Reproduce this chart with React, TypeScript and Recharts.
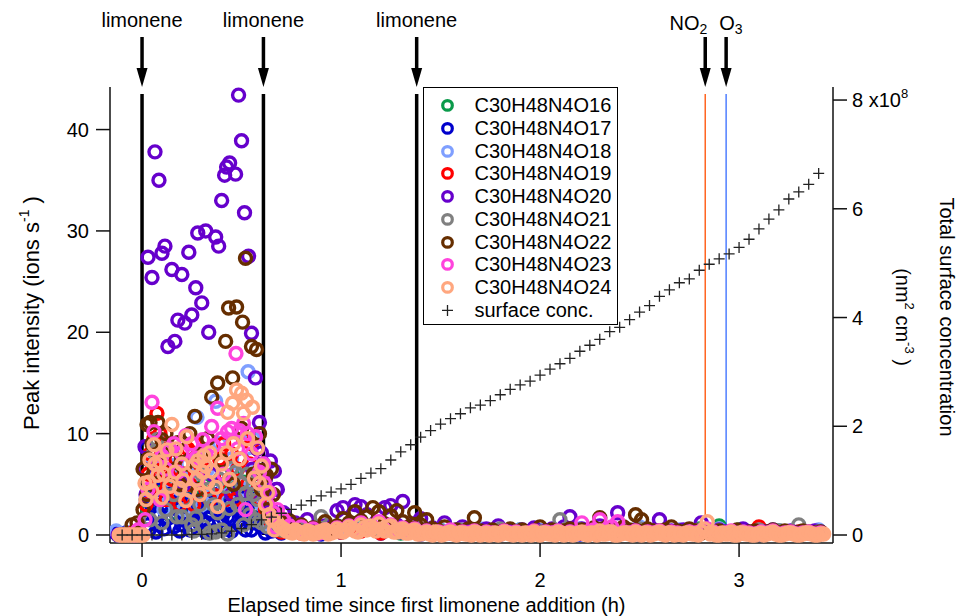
import React from "react";
import { ScatterChart, Scatter, XAxis, YAxis, ReferenceLine } from "recharts";

const FONT = "'Liberation Sans', Arial, Helvetica, sans-serif";

const SERIES = [
  "C30H48N4O16",
  "C30H48N4O17",
  "C30H48N4O18",
  "C30H48N4O19",
  "C30H48N4O20",
  "C30H48N4O21",
  "C30H48N4O22",
  "C30H48N4O23",
  "C30H48N4O24",
];
const COLORS = ["#0a9a4a", "#0000cc", "#7f9fff", "#ff0000", "#6600cc", "#808080", "#662e00", "#ff44dd", "#ffa77f"];

// first hour: [elapsed h, ions s-1]
const O16_EARLY: [number, number][] = [
  [-0.12, 0], [-0.06, 0.1], [0.03, 2.5], [0.06, 4.5], [0.1, 5.5], [0.14, 2.0], [0.19, 3.2], [0.23, 6.0],
  [0.27, 3.8], [0.31, 5.0], [0.35, 2.2], [0.38, 4.5], [0.42, 3.0], [0.46, 6.0], [0.5, 4.2], [0.53, 2.0],
  [0.58, 4.5], [0.62, 1.5], [0.65, 0.6], [0.08, 3.8], [0.12, 4.8], [0.16, 2.8], [0.21, 4.2], [0.25, 2.3],
  [0.29, 4.6], [0.33, 3.6], [0.4, 2.6], [0.44, 4.4], [0.48, 3.0], [0.51, 5.2], [0.56, 3.3], [0.6, 2.0],
];
const O17_EARLY: [number, number][] = [
  [-0.13, 0.2], [-0.08, 0.2], [-0.03, 0.3], [0.02, 8.6], [0.03, 1.0], [0.04, 3.5], [0.06, 2.0], [0.08, 1.0],
  [0.09, 4.5], [0.1, 3.0], [0.12, 1.5], [0.14, 4.0], [0.16, 0.8], [0.18, 2.5], [0.2, 1.0], [0.22, 3.5],
  [0.24, 0.5], [0.26, 2.0], [0.28, 3.0], [0.3, 1.5], [0.32, 0.3], [0.34, 2.8], [0.36, 1.0], [0.38, 4.0],
  [0.4, 2.2], [0.42, 0.6], [0.44, 3.0], [0.46, 1.5], [0.48, 4.5], [0.5, 2.0], [0.52, 0.5], [0.54, 3.2],
  [0.56, 1.2], [0.58, 2.5], [0.6, 0.8], [0.62, 0.2], [0.65, 0.4], [0.035, 0.5], [0.05, 2.8], [0.07, 0.3],
  [0.085, 2.0], [0.11, 0.6], [0.13, 2.8], [0.15, 1.8], [0.17, 3.2], [0.19, 0.4], [0.21, 2.2], [0.23, 1.6],
  [0.25, 3.4], [0.27, 0.9], [0.29, 2.3], [0.31, 3.6], [0.33, 1.2], [0.35, 0.4], [0.37, 2.5], [0.39, 1.4],
  [0.41, 3.4], [0.43, 1.8], [0.45, 0.4], [0.47, 2.6], [0.49, 1.0], [0.51, 3.0], [0.53, 1.8], [0.55, 0.5],
  [0.57, 3.5], [0.59, 1.6], [0.61, 2.8],
];
const O18_EARLY: [number, number][] = [
  [-0.13, 0.4], [-0.07, 0.2], [0.03, 4.0], [0.07, 6.5], [0.11, 2.5], [0.15, 8.0], [0.19, 4.5], [0.23, 7.0],
  [0.276, 11.6], [0.3, 3.0], [0.33, 6.5], [0.37, 13.2], [0.41, 5.0], [0.45, 7.5], [0.49, 10.0], [0.533, 16.1],
  [0.56, 9.5], [0.6, 3.0], [0.64, 1.0], [0.05, 7.0], [0.09, 4.0], [0.13, 5.5], [0.17, 6.8], [0.21, 2.5],
  [0.25, 5.8], [0.28, 8.0], [0.35, 4.0], [0.39, 9.0], [0.43, 3.5], [0.47, 6.0], [0.51, 4.5], [0.55, 7.5],
  [0.58, 5.5], [0.62, 2.5],
];
const O19_EARLY: [number, number][] = [
  [-0.05, 0.2], [0.02, 3.0], [0.03, 6.0], [0.045, 4.5], [0.07, 5.0], [0.075, 12.0], [0.1, 6.5], [0.12, 3.5],
  [0.15, 5.5], [0.18, 4.0], [0.21, 6.0], [0.24, 5.0], [0.26, 3.0], [0.29, 7.0], [0.32, 4.5], [0.36, 6.0],
  [0.39, 7.5], [0.42, 3.5], [0.45, 8.0], [0.48, 6.5], [0.51, 9.5], [0.54, 7.0], [0.56, 4.0], [0.58, 8.5],
  [0.6, 6.0], [0.62, 2.5], [0.64, 1.5], [0.04, 8.0], [0.06, 9.5], [0.09, 10.0], [0.11, 8.5], [0.13, 6.0],
  [0.17, 7.5], [0.19, 3.0], [0.23, 8.5], [0.27, 9.0], [0.31, 6.5], [0.34, 3.5], [0.38, 5.0], [0.41, 9.0],
  [0.44, 5.5], [0.47, 3.5], [0.5, 7.5], [0.53, 5.0], [0.55, 9.0], [0.59, 3.5], [0.61, 4.5],
];
const O20_EARLY: [number, number][] = [
  [-0.12, 0], [-0.08, 0.1], [-0.04, 0], [0.015, 8.7], [0.02, 4.0], [0.03, 27.4], [0.05, 25.4], [0.065, 37.8],
  [0.085, 35.0], [0.1, 27.8], [0.115, 28.5], [0.13, 18.6], [0.15, 26.2], [0.165, 19.1], [0.18, 21.2],
  [0.2, 25.7], [0.21, 5.0], [0.215, 20.9], [0.235, 27.9], [0.25, 21.7], [0.27, 24.4], [0.28, 29.8],
  [0.3, 22.9], [0.32, 30.0], [0.335, 20.0], [0.35, 6.0], [0.37, 29.4], [0.385, 28.5], [0.4, 33.0],
  [0.415, 35.5], [0.425, 36.3], [0.44, 36.7], [0.45, 4.0], [0.47, 35.6], [0.485, 43.4], [0.5, 38.9],
  [0.515, 31.8], [0.535, 27.5], [0.55, 19.9], [0.555, 6.5], [0.57, 15.5], [0.59, 11.1], [0.6, 8.1],
  [0.61, 7.0], [0.62, 5.5], [0.645, 7.3], [0.665, 6.3], [0.675, 4.5], [0.01, 6.5], [0.55, 4.0],
  [0.58, 8.5], [0.63, 3.5], [0.65, 2.5],
];
const O21_EARLY: [number, number][] = [
  [-0.08, 0.1], [0.02, 3.5], [0.06, 8.2], [0.075, 9.4], [0.12, 2.5], [0.16, 4.0], [0.175, 1.8], [0.2, 1.8],
  [0.215, 3.5], [0.25, 1.0], [0.27, 1.7], [0.3, 6.0], [0.34, 0.2], [0.36, 3.0], [0.39, 5.5], [0.4, 0.5],
  [0.43, 0.1], [0.45, 6.6], [0.47, 6.2], [0.5, 5.1], [0.52, 4.1], [0.54, 2.0], [0.58, 3.5], [0.6, 1.2],
  [0.63, 0.8], [0.26, 0.4], [0.29, 3.0], [0.31, 0.8], [0.33, 4.5], [0.37, 0.3], [0.38, 2.2], [0.42, 4.8],
  [0.44, 2.6], [0.48, 3.0], [0.51, 1.0], [0.53, 6.0], [0.56, 4.0], [0.57, 1.5], [0.59, 5.5], [0.62, 3.0],
  [0.65, 1.5], [0.1, 1.2], [0.14, 5.0], [0.04, 1.5],
];
const O22_EARLY: [number, number][] = [
  [-0.1, 0], [-0.05, 1.0], [-0.025, 1.2], [0.005, 2.5], [0.025, 4.0], [0.025, 10.9], [0.04, 11.1], [0.05, 9.0],
  [0.08, 11.1], [0.1, 9.4], [0.11, 8.0], [0.14, 7.5], [0.16, 6.0], [0.18, 9.1], [0.19, 5.0], [0.22, 7.0],
  [0.265, 11.7], [0.3, 8.0], [0.35, 13.6], [0.38, 15.0], [0.42, 19.1], [0.435, 22.4], [0.455, 15.5],
  [0.475, 22.5], [0.505, 21.0], [0.52, 27.3], [0.55, 18.6], [0.575, 18.3], [0.59, 10.0], [0.605, 6.4],
  [0.625, 5.9], [0.65, 6.5], [0.66, 4.0], [0.005, 6.5], [0.03, 7.5], [0.06, 6.2], [0.12, 10.0], [0.2, 8.3],
  [0.24, 10.0], [0.28, 4.5], [0.33, 9.5], [0.4, 7.3], [0.46, 5.0], [0.5, 10.5], [0.56, 6.0], [0.6, 4.5],
  [0.63, 2.5],
];
const O23_EARLY: [number, number][] = [
  [-0.02, 0.5], [0.015, 1.5], [0.05, 13.1], [0.07, 7.0], [0.09, 3.5], [0.12, 6.5], [0.16, 9.0], [0.2, 8.0],
  [0.25, 9.0], [0.28, 5.5], [0.305, 9.4], [0.35, 10.7], [0.38, 12.5], [0.41, 6.0], [0.43, 10.2], [0.472, 17.9],
  [0.49, 10.3], [0.52, 2.5], [0.53, 10.0], [0.57, 9.7], [0.61, 7.0], [0.615, 5.1], [0.64, 4.2], [0.66, 2.2],
  [0.67, 0.8], [0.03, 4.5], [0.06, 10.2], [0.1, 7.8], [0.14, 8.5], [0.18, 6.2], [0.22, 9.8], [0.27, 7.6],
  [0.32, 8.0], [0.36, 8.8], [0.4, 9.5], [0.45, 10.5], [0.48, 8.5], [0.51, 11.0], [0.55, 8.0], [0.59, 6.2],
  [0.63, 3.0],
];
const O24_EARLY: [number, number][] = [
  [-0.115, 0], [-0.1, 0], [-0.085, 0], [-0.07, 0], [-0.055, 0], [-0.04, 0], [-0.025, 0], [-0.01, 0], [0.005, 0],
  [0.015, 5.1], [0.035, 5.2], [0.04, 7.4], [0.065, 7.0], [0.09, 7.2], [0.1, 3.7], [0.125, 8.4], [0.15, 10.9],
  [0.165, 6.2], [0.19, 4.6], [0.205, 5.4], [0.225, 9.7], [0.24, 4.4], [0.275, 5.5], [0.28, 7.3], [0.305, 6.2],
  [0.32, 6.8], [0.34, 8.1], [0.38, 2.8], [0.425, 8.1], [0.43, 12.1], [0.455, 13.0], [0.475, 14.3], [0.5, 14.0],
  [0.51, 12.0], [0.525, 13.3], [0.555, 12.6], [0.565, 5.6], [0.58, 8.6], [0.59, 5.1], [0.62, 3.0], [0.64, 2.0],
  [0.655, 1.5], [0.665, 0.5], [0.02, 3.5], [0.05, 4.3], [0.06, 8.9], [0.08, 5.9], [0.11, 6.0], [0.14, 4.8],
  [0.17, 8.5], [0.2, 7.0], [0.22, 3.4], [0.26, 6.8], [0.29, 4.0], [0.31, 7.8], [0.33, 5.2], [0.35, 6.3],
  [0.37, 4.7], [0.4, 7.0], [0.44, 5.5], [0.46, 9.0], [0.49, 7.5], [0.53, 9.5], [0.6, 6.8], [0.63, 4.2],
];

// later part of the run
const LATE_T = [
  0.68, 0.71, 0.74, 0.77, 0.8, 0.83, 0.86, 0.89, 0.92, 0.95,
  0.98, 1.01, 1.04, 1.07, 1.1, 1.13, 1.16, 1.19, 1.22, 1.25,
  1.28, 1.31, 1.34, 1.37, 1.4, 1.43, 1.46, 1.49, 1.52, 1.55,
  1.58, 1.61, 1.64, 1.67, 1.7, 1.73, 1.76, 1.79, 1.82, 1.85,
  1.88, 1.91, 1.94, 1.97, 2.0, 2.03, 2.06, 2.09, 2.12, 2.15,
  2.18, 2.21, 2.24, 2.27, 2.3, 2.33, 2.36, 2.39, 2.42, 2.45,
  2.48, 2.51, 2.54, 2.57, 2.6, 2.63, 2.66, 2.69, 2.72, 2.75,
  2.78, 2.81, 2.84, 2.87, 2.9, 2.93, 2.96, 2.99, 3.02, 3.05,
  3.08, 3.11, 3.14, 3.17, 3.2, 3.23, 3.26, 3.29, 3.32, 3.35,
  3.38, 3.41,
];
const LATE_T_MID = [
  0.695, 0.725, 0.755, 0.785, 0.815, 0.845, 0.875, 0.905, 0.935, 0.965,
  0.995, 1.025, 1.055, 1.085, 1.115, 1.145, 1.175, 1.205, 1.235, 1.265,
  1.295, 1.325, 1.355, 1.385, 1.415, 1.445, 1.475, 1.505, 1.535, 1.565,
  1.595, 1.625, 1.655, 1.685, 1.715, 1.745, 1.775, 1.805, 1.835, 1.865,
  1.895, 1.925, 1.955, 1.985, 2.015, 2.045, 2.075, 2.105, 2.135, 2.165,
  2.195, 2.225, 2.255, 2.285, 2.315, 2.345, 2.375, 2.405, 2.435, 2.465,
  2.495, 2.525, 2.555, 2.585, 2.615, 2.645, 2.675, 2.705, 2.735, 2.765,
  2.795, 2.825, 2.855, 2.885, 2.915, 2.945, 2.975, 3.005, 3.035, 3.065,
  3.095, 3.125, 3.155, 3.185, 3.215, 3.245, 3.275, 3.305, 3.335, 3.365,
  3.395, 3.425,
];
const O20_LATE = [
  4.5, 2.2, 0.8, 1.2, 0.5, 1.5, 0.4, 0.6, 0.9, 0.5,
  2.4, 2.7, 1.0, 3.0, 2.8, 2.0, 0.8, 1.2, 2.7, 2.9,
  1.0, 3.3, 0.6, 1.1, 1.6, 0.4, 0.7, 0.3, 1.2, 0.2,
  0.5, 0.8, 0.2, 0.4, 0.3, 0.6, 0.2, 0.9, 0.3, 0.4,
  0.2, 0.5, 0.3, 0.7, 0.2, 0.4, 0.6, 0.3, 0.8, 1.8,
  0.4, 0.6, 0.3, 0.5, 0.9, 0.3, 0.6, 2.2, 0.4, 0.3,
  0.5, 0.2, 0.4, 0.3, 1.5, 0.2, 0.4, 0.3, 0.5, 0.2,
  0.3, 1.2, 0.4, 0.2, 0.5, 0.3, 0.2, 0.4, 0.6, 0.3,
  0.2, 0.4, 0.3, 0.5, 0.2, 0.3, 0.4, 0.2, 0.3, 0.2,
  0.4, 0.3,
];
const O22_LATE = [
  2.0, 1.0, 1.4, 0.6, 1.0, 0.4, 0.7, 0.5, 1.3, 0.6,
  0.9, 1.6, 1.2, 2.3, 1.4, 1.8, 2.7, 2.3, 1.1, 1.9,
  2.4, 1.3, 0.8, 2.2, 1.0, 1.5, 0.6, 0.4, 0.8, 0.3,
  0.5, 0.3, 0.6, 1.7, 0.4, 0.3, 0.5, 0.2, 0.4, 0.6,
  0.3, 0.5, 0.2, 0.4, 0.8, 0.3, 0.5, 0.2, 0.4, 0.6,
  0.3, 0.5, 0.4, 0.7, 1.7, 0.4, 0.6, 0.3, 0.8, 0.5,
  2.0, 1.5, 0.6, 0.4, 0.3, 0.5, 0.8, 0.4, 0.3, 0.6,
  0.4, 0.2, 0.5, 0.3, 0.4, 0.2, 0.3, 0.5, 0.2, 0.3,
  0.4, 0.2, 0.3, 0.5, 0.2, 0.4, 0.3, 0.2, 0.4, 0.3,
  0.2, 0.3,
];
const O23_LATE = [
  2.5, 1.5, 0.9, 0.4, 0.8, 0.3, 0.6, 0.2, 0.5, 0.3,
  0.7, 0.4, 0.9, 0.5, 1.2, 0.6, 0.8, 1.3, 0.5, 1.0,
  0.4, 0.7, 0.3, 0.6, 0.2, 0.4, 0.1, 0.3, 0.2, 0.5,
  0.1, 0.3, 0.2, 0.4, 0.1, 0.3, 0.2, 0.1, 0.4, 0.2,
  0.3, 0.1, 0.2, 0.4, 0.1, 0.3, 0.2, 0.4, 0.1, 0.3,
  0.2, 1.2, 0.3, 0.5, 1.5, 0.4, 0.8, 1.3, 0.3, 0.2,
  0.4, 0.1, 0.3, 0.2, 0.4, 0.1, 0.3, 0.2, 0.1, 0.3,
  0.2, 0.4, 0.6, 0.3, 0.1, 0.2, 0.4, 0.1, 0.3, 0.2,
  0.1, 0.3, 0.2, 0.4, 0.1, 0.2, 0.3, 0.1, 0.2, 0.3,
  0.1, 0.2,
];
const O24_LATE = [
  1.2, 0.6, 0.3, 0.5, 0.2, 0.4, 0.1, 0.3, 0.5, 0.2,
  0.6, 0.3, 0.8, 0.4, 1.0, 0.5, 0.7, 1.1, 0.4, 0.9,
  0.3, 0.6, 0.2, 0.5, 0.1, 0.3, 0.0, 0.2, 0.1, 0.3,
  0.0, 0.2, 0.1, 0.3, 0.0, 0.2, 0.1, 0.0, 0.3, 0.1,
  0.2, 0.0, 0.1, 0.3, 0.0, 0.2, 0.1, 0.3, 0.0, 0.2,
  0.1, 0.3, 0.0, 0.2, 0.4, 0.1, 0.3, 0.0, 0.2, 0.1,
  0.3, 0.0, 0.2, 0.1, 0.3, 0.0, 0.2, 0.1, 0.0, 0.2,
  0.1, 0.3, 1.3, 0.2, 0.0, 0.1, 0.3, 0.0, 0.2, 0.1,
  0.0, 0.2, 0.1, 0.3, 0.0, 0.1, 0.2, 0.0, 0.1, 0.2,
  0.0, 0.1,
];
const O24_LATE_MID = [
  0.8, 0.4, 0.2, 0.3, 0.1, 0.3, 0.2, 0.4, 0.1, 0.3,
  0.4, 0.5, 0.6, 0.3, 0.7, 0.9, 0.4, 0.6, 0.8, 0.3,
  0.5, 0.2, 0.4, 0.1, 0.2, 0.1, 0.3, 0.0, 0.2, 0.1,
  0.2, 0.1, 0.0, 0.2, 0.1, 0.0, 0.2, 0.1, 0.2, 0.0,
  0.1, 0.2, 0.0, 0.1, 0.2, 0.1, 0.0, 0.2, 0.1, 0.0,
  0.2, 0.1, 0.2, 0.0, 0.1, 0.3, 0.0, 0.1, 0.2, 0.0,
  0.1, 0.2, 0.0, 0.2, 0.1, 0.2, 0.0, 0.1, 0.2, 0.1,
  0.0, 0.6, 0.1, 0.0, 0.2, 0.1, 0.0, 0.2, 0.1, 0.0,
  0.1, 0.0, 0.2, 0.1, 0.0, 0.2, 0.1, 0.0, 0.2, 0.1,
  0.0, 0.1,
];

const LATE_T_COARSE = [
  0.7, 0.8, 0.9, 1.0, 1.1, 1.2, 1.3, 1.4, 1.5, 1.6, 1.7, 1.8, 1.9, 2.0,
  2.1, 2.2, 2.3, 2.4, 2.5, 2.6, 2.7, 2.8, 2.9, 3.0, 3.1, 3.2, 3.3, 3.4,
];
const O16_LATE = [0.3, 0.5, 0.2, 0.4, 0.6, 0.3, 0.2, 0.5, 0.3, 0.2, 0.4, 0.3, 0.5, 0.2, 0.4, 0.3, 0.2, 0.5, 0.3, 0.4, 0.2, 0.6, 0.9, 0.5, 0.3, 0.4, 0.2, 0.3];
const O17_LATE = [0.2, 0.4, 0.1, 0.3, 0.5, 0.2, 0.3, 0.1, 0.4, 0.2, 0.3, 0.1, 0.2, 0.4, 0.3, 0.1, 0.2, 0.3, 0.1, 0.4, 0.2, 0.3, 0.5, 0.2, 0.1, 0.3, 0.2, 0.1];
const O18_LATE = [0.4, 0.6, 0.3, 0.8, 0.5, 0.4, 0.7, 0.3, 0.5, 0.4, 0.6, 0.3, 0.5, 0.4, 0.3, 0.6, 0.4, 0.5, 0.8, 0.3, 0.5, 0.4, 0.6, 0.3, 0.5, 0.4, 0.3, 0.5];
const O19_LATE = [0.3, 0.2, 0.5, 0.3, 0.4, 0.2, 0.6, 0.3, 0.2, 0.4, 0.3, 0.5, 0.2, 0.3, 0.4, 0.2, 0.3, 0.5, 0.2, 0.4, 0.3, 0.2, 0.4, 0.3, 0.8, 0.2, 0.3, 0.2];
const O21_LATE = [0.5, 0.6, 1.8, 0.4, 1.0, 0.5, 0.3, 0.6, 0.4, 0.5, 0.3, 0.6, 0.4, 0.3, 1.5, 0.5, 0.4, 0.3, 0.6, 0.4, 0.3, 0.5, 0.4, 0.3, 0.5, 0.4, 1.0, 0.3];

// total surface concentration, 1e8 nm2 cm-3
const SURF_T = [
  -0.1, -0.05, 0.0, 0.05, 0.1, 0.15, 0.2, 0.25, 0.3, 0.35,
  0.4, 0.45, 0.5, 0.55, 0.6, 0.65, 0.7, 0.75, 0.8, 0.85,
  0.9, 0.95, 1.0, 1.05, 1.1, 1.15, 1.2, 1.25, 1.3, 1.35,
  1.4, 1.45, 1.5, 1.55, 1.6, 1.65, 1.7, 1.75, 1.8, 1.85,
  1.9, 1.95, 2.0, 2.05, 2.1, 2.15, 2.2, 2.25, 2.3, 2.35,
  2.4, 2.45, 2.5, 2.55, 2.6, 2.65, 2.7, 2.75, 2.8, 2.85,
  2.9, 2.95, 3.0, 3.05, 3.1, 3.15, 3.2, 3.25, 3.3, 3.35,
  3.4,
];
const SURF_V = [
  0, 0, 0, 0, 0, 0, 0, 0.01, 0.01, 0.02,
  0.04, 0.07, 0.12, 0.19, 0.28, 0.33, 0.4, 0.47, 0.55, 0.63,
  0.72, 0.79, 0.85, 0.93, 1.04, 1.14, 1.22, 1.38, 1.53, 1.66,
  1.8, 1.92, 2.04, 2.14, 2.23, 2.34, 2.39, 2.47, 2.58, 2.68,
  2.76, 2.83, 2.94, 3.05, 3.15, 3.25, 3.38, 3.49, 3.6, 3.74,
  3.82, 3.96, 4.1, 4.22, 4.39, 4.51, 4.64, 4.71, 4.87, 4.98,
  5.08, 5.17, 5.29, 5.44, 5.63, 5.81, 5.98, 6.18, 6.31, 6.45,
  6.65,
];

const EVENT_T = [0, 0.61, 1.38, 2.83, 2.935];
const EVENT_LABEL = ["limonene", "limonene", "limonene", "NO2", "O3"];
const EVENT_TOP = 43.5;

const X_TICKS = [0, 1, 2, 3];
const LEFT_TICKS = [0, 10, 20, 30, 40];
const RIGHT_TICKS = [0, 2, 4, 6, 8];

const pairs = (p: [number, number][]) => p.map(([t, v]) => ({ t, v }));
const zip = (ts: number[], vs: number[]) => vs.map((v, i) => ({ t: ts[i], v }));

const SERIES_DATA = [
  [...pairs(O16_EARLY), ...zip(LATE_T_COARSE, O16_LATE)],
  [...pairs(O17_EARLY), ...zip(LATE_T_COARSE, O17_LATE)],
  [...pairs(O18_EARLY), ...zip(LATE_T_COARSE, O18_LATE)],
  [...pairs(O19_EARLY), ...zip(LATE_T_COARSE, O19_LATE)],
  [...pairs(O20_EARLY), ...zip(LATE_T, O20_LATE)],
  [...pairs(O21_EARLY), ...zip(LATE_T_COARSE, O21_LATE)],
  [...pairs(O22_EARLY), ...zip(LATE_T, O22_LATE)],
  [...pairs(O23_EARLY), ...zip(LATE_T, O23_LATE)],
  [...pairs(O24_EARLY), ...zip(LATE_T, O24_LATE), ...zip(LATE_T_MID, O24_LATE_MID)],
];
const SURF_DATA = zip(SURF_T, SURF_V);

const PLOT_TOP = 87;
const EVENT_STROKE = ["#000", "#000", "#000", "#ff6420", "#4f7fff"];
const EVENT_WIDTH = [3.5, 3.5, 3.5, 1.5, 1.5];

const makeRing = (color: string) => (props: any) => {
  const { cx, cy } = props;
  if (cx == null || cy == null) return <g />;
  return <circle cx={cx} cy={cy} r={6} fill="none" stroke={color} strokeWidth={3.4} />;
};

const crossShape = (props: any) => {
  const { cx, cy } = props;
  if (cx == null || cy == null) return <g />;
  return <path d={`M${cx - 5.5},${cy}H${cx + 5.5}M${cx},${cy - 5.5}V${cy + 5.5}`} stroke="#222" strokeWidth={1.3} fill="none" />;
};

function EventArrow(props: any) {
  const { viewBox, name } = props;
  const x = viewBox?.x ?? 0;
  let label: React.ReactNode;
  if (name === "NO2") {
    label = (
      <text x={x + 2} y={30} textAnchor="end" fontSize={20} fontFamily={FONT} fill="#000">
        NO<tspan fontSize={14} dy={4}>2</tspan>
      </text>
    );
  } else if (name === "O3") {
    label = (
      <text x={x - 7} y={30} textAnchor="start" fontSize={20} fontFamily={FONT} fill="#000">
        O<tspan fontSize={14} dy={4}>3</tspan>
      </text>
    );
  } else {
    label = (
      <text x={x} y={27} textAnchor="middle" fontSize={20} fontFamily={FONT} fill="#000">
        {name}
      </text>
    );
  }
  return (
    <g>
      {label}
      <line x1={x} x2={x} y1={37} y2={PLOT_TOP - 16} stroke="#000" strokeWidth={3.5} />
      <path d={`M${x - 5.5},${PLOT_TOP - 19}L${x + 5.5},${PLOT_TOP - 19}L${x},${PLOT_TOP}Z`} fill="#000" />
    </g>
  );
}

function LeftTick(props: any) {
  const { x, y, payload } = props;
  return (
    <text x={x} y={y} dy="0.36em" textAnchor="end" fontSize={20} fontFamily={FONT} fill="#000">
      {payload.value}
    </text>
  );
}

function RightTick(props: any) {
  const { x, y, payload } = props;
  const v = payload.value;
  return (
    <text x={x} y={y} dy="0.36em" textAnchor="start" fontSize={20} fontFamily={FONT} fill="#000">
      {v === 8 ? (
        <>
          8 x10<tspan fontSize={13} dy={-9}>8</tspan>
        </>
      ) : (
        v
      )}
    </text>
  );
}

function BottomTick(props: any) {
  const { x, y, payload } = props;
  return (
    <text x={x} y={y} dy="0.71em" textAnchor="middle" fontSize={20} fontFamily={FONT} fill="#000">
      {payload.value}
    </text>
  );
}

function XTitle(props: any) {
  const vb = props.viewBox || { x: 0, y: 0, width: 0, height: 0 };
  return (
    <text x={vb.x + vb.width / 2 - 45} y={vb.y + 69} textAnchor="middle" fontSize={20} fontFamily={FONT} fill="#000">
      Elapsed time since first limonene addition (h)
    </text>
  );
}

function LeftTitle(props: any) {
  const vb = props.viewBox || { x: 0, y: 0, width: 0, height: 0 };
  const cx = vb.x - 19;
  const cy = vb.y + vb.height / 2 - 2;
  return (
    <text x={cx} y={cy} dy="0.36em" transform={`rotate(-90, ${cx}, ${cy})`} textAnchor="middle" fontSize={22} fontFamily={FONT} fill="#000">
      Peak intensity (ions s<tspan fontSize={14} dy={-10}>-1</tspan>
      <tspan dy={10}> )</tspan>
    </text>
  );
}

function RightTitle(props: any) {
  const vb = props.viewBox || { x: 0, y: 0, width: 0, height: 0 };
  const x1 = vb.x + vb.width + 54;
  const x2 = vb.x + vb.width + 10;
  const cy = vb.y + vb.height / 2 + 2;
  return (
    <g>
      <text x={x1} y={cy} dy="0.36em" transform={`rotate(90, ${x1}, ${cy})`} textAnchor="middle" fontSize={20} fontFamily={FONT} fill="#000">
        Total surface concentration
      </text>
      <text x={x2} y={cy} dy="0.36em" transform={`rotate(90, ${x2}, ${cy})`} textAnchor="middle" fontSize={20} fontFamily={FONT} fill="#000">
        (nm<tspan fontSize={13} dy={-9}>2</tspan>
        <tspan dy={9}> cm</tspan>
        <tspan fontSize={13} dy={-9}>-3</tspan>
        <tspan dy={9}> )</tspan>
      </text>
    </g>
  );
}

function LegendBox() {
  const rows = [...SERIES, "surface conc."];
  return (
    <div
      style={{
        position: "absolute",
        left: 423,
        top: 87,
        width: 195,
        height: 238,
        border: "1.5px solid #000",
        boxSizing: "border-box",
        background: "#fff",
        fontFamily: FONT,
        fontSize: 20,
        color: "#000",
      }}
    >
      {rows.map((name, i) => (
        <div key={name} style={{ position: "absolute", left: 0, top: 6 + i * 22.75, height: 22.75, width: "100%" }}>
          <svg width={48} height={22.75} style={{ position: "absolute", left: 0, top: 0 }}>
            {i < SERIES.length ? (
              <circle cx={23.5} cy={11.4} r={4.8} fill="none" stroke={COLORS[i]} strokeWidth={3.2} />
            ) : (
              <path d="M18,11.4H29M23.5,5.9V16.9" stroke="#222" strokeWidth={1.3} />
            )}
          </svg>
          <span style={{ position: "absolute", left: 50.5, top: 0, lineHeight: "22.75px", whiteSpace: "nowrap" }}>{name}</span>
        </div>
      ))}
    </div>
  );
}

export default function App() {
  return (
    <div style={{ position: "absolute", left: 0, top: 0, width: 957, height: 616, background: "#fff" }}>
      <ScatterChart width={957} height={616} margin={{ top: PLOT_TOP, right: 64, bottom: 13, left: 50 }}>
        <XAxis
          type="number"
          dataKey="t"
          domain={[-0.161, 3.472]}
          allowDataOverflow
          ticks={X_TICKS}
          tickSize={14}
          tickMargin={16}
          height={60}
          tick={<BottomTick />}
          axisLine={{ stroke: "#111", strokeWidth: 1.5 }}
          tickLine={{ stroke: "#111", strokeWidth: 1.5 }}
          label={<XTitle />}
        />
        <XAxis
          xAxisId="top"
          orientation="top"
          type="number"
          dataKey="t"
          domain={[-0.161, 3.472]}
          height={0}
          tick={false}
          tickLine={false}
          axisLine={{ stroke: "#222", strokeWidth: 2 }}
        />
        <YAxis
          yAxisId="left"
          type="number"
          dataKey="v"
          domain={[-0.79, 44.2]}
          allowDataOverflow
          ticks={LEFT_TICKS}
          tickSize={14}
          tickMargin={7}
          width={60}
          tick={<LeftTick />}
          axisLine={{ stroke: "#111", strokeWidth: 1.5 }}
          tickLine={{ stroke: "#111", strokeWidth: 1.5 }}
          label={<LeftTitle />}
        />
        <YAxis
          yAxisId="right"
          orientation="right"
          type="number"
          dataKey="v"
          domain={[-0.147, 8.24]}
          allowDataOverflow
          ticks={RIGHT_TICKS}
          tickSize={14}
          tickMargin={5}
          width={60}
          tick={<RightTick />}
          axisLine={{ stroke: "#111", strokeWidth: 1.5 }}
          tickLine={{ stroke: "#111", strokeWidth: 1.5 }}
          label={<RightTitle />}
        />
        {EVENT_T.map((t, i) => (
          <ReferenceLine
            key={`ev${i}`}
            yAxisId="left"
            segment={[{ x: t, y: 0 }, { x: t, y: EVENT_TOP }]}
            stroke={EVENT_STROKE[i]}
            strokeWidth={EVENT_WIDTH[i]}
            ifOverflow="visible"
            label={<EventArrow name={EVENT_LABEL[i]} />}
          />
        ))}
        {SERIES.map((name, i) => (
          <Scatter
            key={name}
            name={name}
            yAxisId="left"
            data={SERIES_DATA[i]}
            shape={makeRing(COLORS[i])}
            isAnimationActive={false}
          />
        ))}
        <Scatter
          name="surface conc."
          yAxisId="right"
          data={SURF_DATA}
          shape={crossShape}
          isAnimationActive={false}
        />
      </ScatterChart>
      <LegendBox />
    </div>
  );
}
